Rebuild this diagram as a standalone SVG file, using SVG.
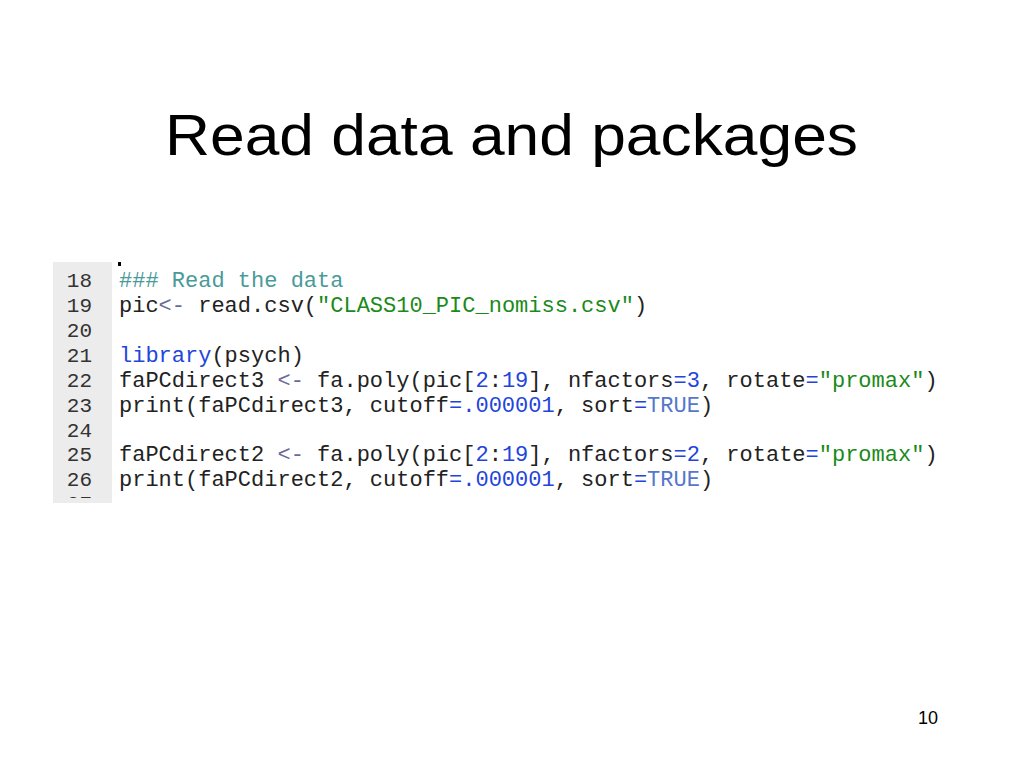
<svg xmlns="http://www.w3.org/2000/svg" width="1024" height="768" viewBox="0 0 1024 768">
<style>
.c{font-family:"Liberation Mono",monospace;font-size:22px;fill:#222}
.n{font-family:"Liberation Mono",monospace;font-size:21px;fill:#333}
.cm{fill:#4a9a9a}.s{fill:#1a8a1a}.k{fill:#2244dd}.o{fill:#6a6a9a}.t{fill:#5577cc}
</style>
<rect width="1024" height="768" fill="#fff"/>
<text x="165" y="155" font-family="Liberation Sans,Arial,sans-serif" font-size="58" textLength="693" lengthAdjust="spacingAndGlyphs" fill="#000">Read data and packages</text>
<rect x="53" y="262" width="59" height="241" fill="#ececec"/>
<rect x="118" y="262" width="3" height="4" fill="#000"/>
<g class="n" text-anchor="end">
<text x="92" y="287">18</text><text x="92" y="312">19</text><text x="92" y="337">20</text><text x="92" y="362">21</text><text x="92" y="387">22</text><text x="92" y="412">23</text><text x="92" y="437">24</text><text x="92" y="461">25</text><text x="92" y="486">26</text><text x="92" y="510">27</text>
</g>
<g class="c" xml:space="preserve">
<text x="119" y="287" class="c cm">### Read the data</text>
<text x="119" y="312">pic<tspan class="o">&lt;-</tspan> read.csv(<tspan class="s">"CLASS10_PIC_nomiss.csv"</tspan>)</text>
<text x="119" y="362"><tspan class="k">library</tspan>(psych)</text>
<text x="119" y="387">faPCdirect3 <tspan class="o">&lt;-</tspan> fa.poly(pic[<tspan class="k">2</tspan>:<tspan class="k">19</tspan>], nfactors<tspan class="k">=3</tspan>, rotate<tspan class="k">=</tspan><tspan class="s">"promax"</tspan>)</text>
<text x="119" y="412">print(faPCdirect3, cutoff<tspan class="k">=.000001</tspan>, sort<tspan class="k">=</tspan><tspan class="t">TRUE</tspan>)</text>
<text x="119" y="461">faPCdirect2 <tspan class="o">&lt;-</tspan> fa.poly(pic[<tspan class="k">2</tspan>:<tspan class="k">19</tspan>], nfactors<tspan class="k">=2</tspan>, rotate<tspan class="k">=</tspan><tspan class="s">"promax"</tspan>)</text>
<text x="119" y="486">print(faPCdirect2, cutoff<tspan class="k">=.000001</tspan>, sort<tspan class="k">=</tspan><tspan class="t">TRUE</tspan>)</text>
</g>
<rect x="53" y="498" width="60" height="14" fill="#fff"/>
<rect x="53" y="498" width="59" height="5" fill="#ececec"/>
<text x="938" y="724" text-anchor="end" font-family="Liberation Sans,Arial,sans-serif" font-size="18" fill="#000">10</text>
</svg>
